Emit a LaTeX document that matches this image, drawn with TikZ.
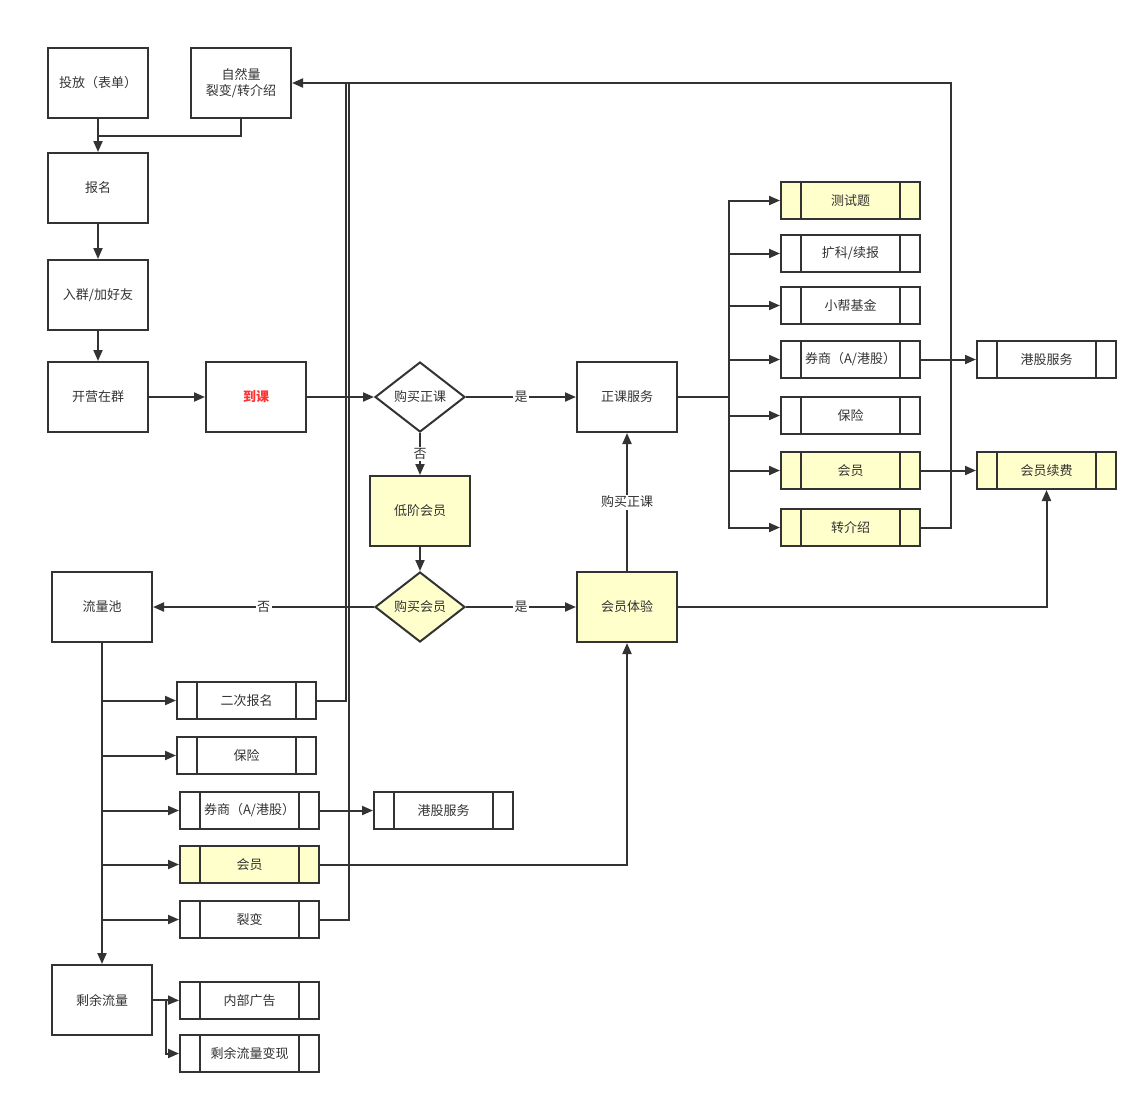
\documentclass[tikz,border=0pt]{standalone}
\usepackage{fontspec}
\setmainfont{Noto Sans CJK SC}
\usetikzlibrary{arrows.meta,shapes.geometric,calc}
\definecolor{ln}{HTML}{333333}
\definecolor{yl}{HTML}{FFFFCC}
\definecolor{rd}{HTML}{FF3333}
\begin{document}
\begin{tikzpicture}[x=1pt,y=-1pt,
  font=\fontsize{13pt}{16pt}\selectfont, text=ln,
  box/.style={draw=ln,line width=2pt,minimum width=100pt,minimum height=70pt,inner sep=0pt,align=center},
  proc/.style={draw=ln,line width=2pt,minimum width=139pt,minimum height=37pt,inner sep=0pt,
    path picture={\draw[ln,line width=2pt]
      ([xshift=20pt]path picture bounding box.north west) -- ([xshift=20pt]path picture bounding box.south west)
      ([xshift=-20pt]path picture bounding box.north east) -- ([xshift=-20pt]path picture bounding box.south east);}},
  dia/.style={diamond,draw=ln,line width=2pt,minimum width=90pt,minimum height=70pt,inner sep=0pt},
  yel/.style={fill=yl},
  conn/.style={draw=ln,line width=2pt},
  arr/.style={conn,-{Triangle[length=11pt,width=9pt]}},
  lab/.style={fill=white,inner sep=1.5pt,text=ln}]
\useasboundingbox (0,0) rectangle (1148,1104);

% main boxes
\node[box] (tf) at (98,83) {投放（表单）};
\node[box] (zr) at (241,83) {自然量\\裂变/转介绍};
\node[box] (bm) at (98,188) {报名};
\node[box] (rq) at (98,295) {入群/加好友};
\node[box] (ky) at (98,397) {开营在群};
\node[box] (dk) at (256,397) {\textcolor{rd}{\bfseries 到课}};
\node[dia] (d1) at (420,397) {购买正课};
\node[box] (zk) at (627,397) {正课服务};
\node[box,yel] (dj) at (420,511) {低阶会员};
\node[dia,yel] (d2) at (420,607) {购买会员};
\node[box,yel] (hy) at (627,607) {会员体验};
\node[box] (llc) at (102,607) {流量池};
\node[box] (sy) at (102,1000) {剩余流量};

% right column
\node[proc,yel] (r1) at (850.5,200.5) {测试题};
\node[proc] (r2) at (850.5,253.5) {扩科/续报};
\node[proc] (r3) at (850.5,305.5) {小帮基金};
\node[proc] (r4) at (850.5,359.5) {券商（A/港股）};
\node[proc] (r5) at (850.5,415.5) {保险};
\node[proc,yel] (r6) at (850.5,470.5) {会员};
\node[proc,yel] (r7) at (850.5,527.5) {转介绍};
\node[proc] (hk1) at (1046.5,359.5) {港股服务};
\node[proc,yel] (xf) at (1046.5,470.5) {会员续费};

% left column
\node[proc] (l1) at (246.5,700.5) {二次报名};
\node[proc] (l2) at (246.5,755.5) {保险};
\node[proc] (l3) at (249.5,810.5) {券商（A/港股）};
\node[proc] (hk2) at (443.5,810.5) {港股服务};
\node[proc,yel] (l4) at (249.5,864.5) {会员};
\node[proc] (l5) at (249.5,919.5) {裂变};
\node[proc] (b1) at (249.5,1000.5) {内部广告};
\node[proc] (b2) at (249.5,1053.5) {剩余流量变现};

% connectors top-left
\draw[arr] (tf) -- (bm);
\draw[conn] (zr.south) |- ($(tf.south)+(0,17)$);
\draw[arr] (bm) -- (rq);
\draw[arr] (rq) -- (ky);
\draw[arr] (ky) -- (dk);
\draw[arr] (dk) -- (d1);
\draw[arr] (d1) -- node[lab] {是} (zk);
\draw[arr] (d1) -- node[lab] {否} (dj);
\draw[arr] (dj) -- (d2);
\draw[arr] (d2) -- node[lab] {是} (hy);
\draw[arr] (d2) -- node[lab] {否} (llc);
\draw[arr] (hy) -- node[lab] {购买正课} (zk);

% trunk to right column
\coordinate (t) at (729,397);
\draw[conn] (zk.east) -- (t);
\foreach \b in {r1,r2,r3,r4,r5,r6,r7} {\draw[arr] (t) |- (\b.west);}
\draw[arr] (r4.east) -- (hk1.west);
\draw[arr] (r6.east) -- (xf.west);
\draw[arr] (r7.east) -- ++(30,0) |- (zr.east);
\draw[arr] (hy.east) -| (xf.south);

% left column
\draw[arr] (llc) -- (sy);
\foreach \b in {l1,l2,l3,l4,l5} {\draw[arr] (llc.south |- \b.west) -- (\b.west);}
\draw[conn] (l1.east) -| ($(zr.east)+(54,0)$);
\draw[conn] (l5.east) -| ($(zr.east)+(57,0)$);
\draw[arr] (l3.east) -- (hk2.west);
\draw[arr] (l4.east) -| (hy.south);

% remaining traffic
\coordinate (s) at (166,1000);
\draw[conn] (sy.east) -- (s);
\draw[arr] (s) -- (b1.west);
\draw[arr] (s) |- (b2.west);
\end{tikzpicture}
\end{document}
